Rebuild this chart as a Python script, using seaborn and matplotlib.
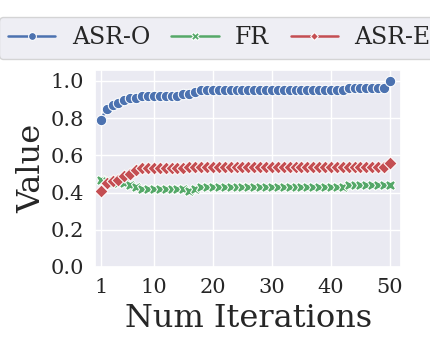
import numpy as np
import pandas as pd
import matplotlib
matplotlib.use("Agg")
import matplotlib.pyplot as plt
import seaborn as sns

# Values
iterations = list(range(1, 51))

asr_o = [0.79, 0.85, 0.87, 0.88, 0.90, 0.91, 0.91, 0.92, 0.92, 0.92,
         0.92, 0.92, 0.92, 0.92, 0.93, 0.93, 0.94, 0.95, 0.95, 0.95,
         0.95, 0.95, 0.95, 0.95, 0.95, 0.95, 0.95, 0.95, 0.95, 0.95,
         0.95, 0.95, 0.95, 0.95, 0.95, 0.95, 0.95, 0.95, 0.95, 0.95,
         0.95, 0.95, 0.96, 0.96, 0.96, 0.96, 0.96, 0.96, 0.96, 1.00]

fr = [0.47, 0.46, 0.45, 0.45, 0.45, 0.44, 0.43, 0.42, 0.42, 0.42,
      0.42, 0.42, 0.42, 0.42, 0.42, 0.41, 0.42, 0.43, 0.43, 0.43,
      0.43, 0.43, 0.43, 0.43, 0.43, 0.43, 0.43, 0.43, 0.43, 0.43,
      0.43, 0.43, 0.43, 0.43, 0.43, 0.43, 0.43, 0.43, 0.43, 0.43,
      0.43, 0.43, 0.44, 0.44, 0.44, 0.44, 0.44, 0.44, 0.44, 0.44]

asr_e = [0.41, 0.45, 0.46, 0.47, 0.49, 0.50, 0.52, 0.53, 0.53, 0.53,
         0.53, 0.53, 0.53, 0.53, 0.53, 0.54, 0.54, 0.54, 0.54, 0.54,
         0.54, 0.54, 0.54, 0.54, 0.54, 0.54, 0.54, 0.54, 0.54, 0.54,
         0.54, 0.54, 0.54, 0.54, 0.54, 0.54, 0.54, 0.54, 0.54, 0.54,
         0.54, 0.54, 0.54, 0.54, 0.54, 0.54, 0.54, 0.54, 0.54, 0.56]

metric_names = ["ASR-O", "FR", "ASR-E"]
x_ticks = [1, 10, 20, 30, 40, 50]
y_ticks = [0.0, 0.2, 0.4, 0.6, 0.8, 1.0]

# long format for seaborn
df = pd.DataFrame({
    "Num Iterations": iterations * 3,
    "Value": asr_o + fr + asr_e,
    "Metric": [metric_names[0]] * 50 + [metric_names[1]] * 50 + [metric_names[2]] * 50,
})

sns.set_theme(style="darkgrid")
plt.rcParams["font.family"] = ["DejaVu Serif"]

deep = sns.color_palette("deep")
palette = {"ASR-O": deep[0], "FR": deep[2], "ASR-E": deep[3]}
markers = {"ASR-O": "o", "FR": "X", "ASR-E": (4, 0, 0)}  # diamond

fig, ax = plt.subplots(figsize=(4.3, 3.44), dpi=100)
fig.subplots_adjust(left=0.221, right=0.933, top=0.797, bottom=0.224)

sns.lineplot(data=df, x="Num Iterations", y="Value", hue="Metric", style="Metric",
             palette=palette, markers=markers, dashes=False, markersize=7.5,
             linewidth=1.8, ax=ax)
# diamonds a bit bigger, like the original
ax.lines[2].set_markersize(9.5)

ax.set_xlim(0.03, 51.9)
ax.set_ylim(0, 1.06)
ax.set_xticks(x_ticks)
ax.set_yticks(y_ticks)
ax.tick_params(labelsize=15, pad=2)
ax.set_xlabel("Num Iterations", fontsize=23, labelpad=4)
ax.set_ylabel("Value", fontsize=23, labelpad=2)

sns.move_legend(ax, "center", bbox_to_anchor=(0.51, 0.89), bbox_transform=fig.transFigure,
                ncol=3, title=None, frameon=True, fontsize=17, columnspacing=0.9,
                handletextpad=0.7, markerscale=0.75)

fig.savefig("out.png", dpi=100)
